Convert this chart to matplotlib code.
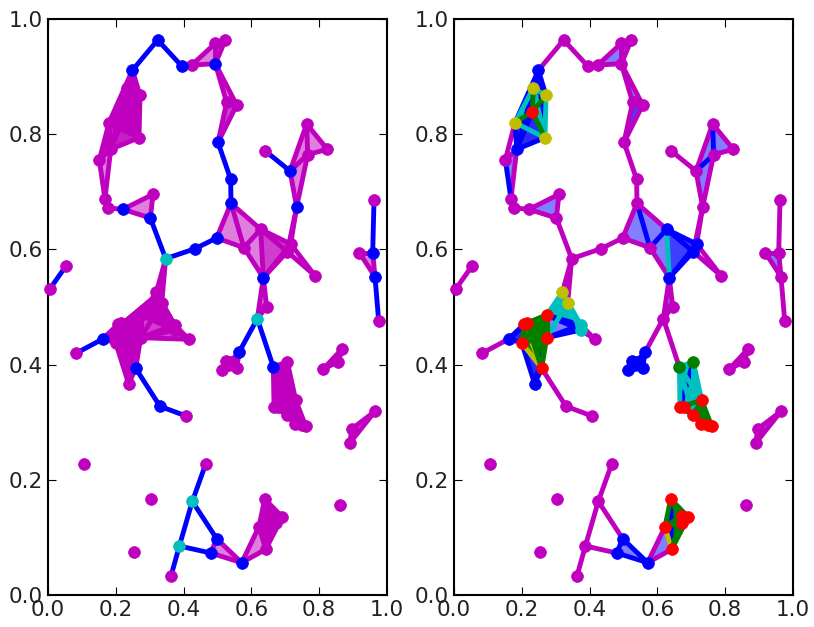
import matplotlib
matplotlib.use('Agg')
import matplotlib.pyplot as plt

px = [.3235,.249,.395,.424,.4936,.4936,.523,.527,.5566,.5015,
      .5388,.5398,.4975,.4336,.3471,.3019,.2212,.178,.168,.3097,
      .1514,.18,.2684,.234,.2714,.231,.185,.64,.7139,.7335,
      .763,.824,.766,.7158,.706,.7876,.6352,.6274,.578,.9617,
      .9578,.9184,.9646,.9755,.053,.006,.0826,.1613,.2586,.238,
      .3304,.4071,.4159,.2734,.2734,.1997,.2075,.216,.3737,.3737,
      .3354,.3196,.5634,.5251,.5566,.5133,.5369,.6175,.645,.6647,
      .7059,.7306,.6667,.7059,.7276,.7502,.76,.6794,.8121,.8564,
      .8682,.9646,.8958,.8909,.1071,.3048,.2537,.8623,.4652,.4257,
      .3875,.3628,.4975,.48,.5713,.6392,.6912,.6714,.6735,.6224,.6421]
py = [.9635,.911,.918,.92,.9224,.9578,.9635,.8553,.8507,.7859,
      .7216,.68,.6198,.6012,.5839,.6545,.6696,.6719,.6875,.6956,
      .7552,.82,.7939,.8802,.8675,.839,.7738,.7714,.7361,.6736,
      .8177,.7738,.7646,.6094,.596,.5544,.5509,.6349,.603,.6858,
      .5943,.5943,.5526,.4757,.5712,.5318,.4196,.4444,.3935,.3663,
      .3276,.3108,.4439,.4861,.4467,.438,.4705,.4716,.4688,.46,
      .5064,.5255,.4213,.4068,.3936,.39,.405,.4797,.5005,.3958,
      .405,.3385,.3258,.3125,.2963,.2951,.2934,.3258,.3924,.405,
      .4276,.3189,.2882,.2644,.2274,.1667,.0752,.1562,.2274,.1626,
      .0851,.033,.0978,.0729,.0561,.1667,.1354,.1372,.1255,.1186,.0793]

# edges, grouped by the colour they have on the right
edges_m = [(0,1),(0,2),(2,3),(3,4),(3,5),(4,5),(4,6),(5,6),(4,7),(4,8),(7,8),(7,9),(8,9),
           (9,10),(10,11),(11,12),(12,13),(13,14),(14,15),(15,16),(15,19),(16,19),(16,17),
           (17,18),(20,21),(20,26),(26,18),(12,38),(38,36),(11,37),(33,29),(34,29),
           (34,35),(33,35),(29,28),(29,32),(28,30),(30,31),(32,31),(27,28),(39,40),(40,41),
           (41,42),(40,42),(42,43),(44,45),(14,61),(14,60),(46,47),(48,50),(50,51),(59,52),
           (58,52),(62,67),(67,69),(67,68),(67,36),(36,68),(78,79),(79,80),(78,80),(81,82),
           (81,83),(82,83),(88,89),(89,90),(89,92),(90,91),(90,93),(94,99),(94,100)]
edges_b = [(20,18),(1,21),(1,22),(1,26),(25,26),(21,26),(22,26),(1,23),(1,24),(1,25),
           (11,38),(37,38),(37,33),(37,34),(36,34),(33,34),(36,33),(30,32),(28,32),(53,58),(54,58),
           (54,59),(53,59),(47,55),(47,56),(47,57),(49,48),(49,55),(49,54),(62,66),(62,64),
           (63,66),(63,65),(64,65),(64,66),(65,66),(63,64),(70,72),(92,93),(92,94),(93,94),
           (95,100)]
edges_c = [(23,21),(24,22),(21,22),(23,22),(23,24),(37,36),(61,58),(61,59),(60,58),(60,59),
           (61,53),(60,53),(60,54),(58,59),(60,61),(69,70),(69,72),(70,71),(69,71),(70,73),(69,73)]
edges_g = [(23,25),(24,25),(21,25),(25,22),(53,54),(53,55),(53,56),(53,57),(54,55),(54,56),
           (54,57),(55,56),(55,57),(56,57),(54,48),(53,48),(57,48),(71,73),(71,74),(71,75),
           (71,76),(72,73),(73,74),(74,75),(75,76),(72,77),(77,73),(71,72),(95,99),(95,96),
           (95,97),(95,98),(96,97),(97,98),(96,98),(98,100),(96,100),(99,98),(99,97),(97,100)]
edges_y = [(55,48),(56,48),(56,54),(99,100)]
left_only_edges = [(54,52)]

tris_b = [(3,4,5),(4,5,6),(7,8,4),(7,8,9),(15,16,19),(20,18,26),(1,21,26),(1,22,26),(21,22,26),
          (26,25,22),(21,25,26),(1,23,24),
          (11,12,38),(11,37,38),(37,38,36),(37,36,33),(36,34,33),(37,33,34),(36,37,34),
          (28,29,32),(30,31,32),(28,30,32),
          (40,41,42),(53,54,58),(54,58,59),(47,55,56),(49,48,55),(47,55,57),(94,99,100),(92,93,94),
          (62,63,64),(63,64,65),(78,79,80),(81,82,83),(14,60,61),(36,67,68),(7,8,9)]
tris_c = [(23,21,25),(23,24,22),(24,22,25),(21,22,25),(60,61,58),(60,61,53),(53,60,58),
          (69,70,71),(69,71,72),(70,71,72)]
tris_g = [(53,54,57),(53,56,57),(54,55,56),(54,55,48),(71,73,74),(71,74,76),(72,73,77),
          (95,99,97),(99,98,100),(96,98,100),(95,96,98),(53,54,48),(95,99,100),(95,96,100)]

# where the fill stacks up to a solid colour
solid_left = [(47,55,56),(55,56,53),(55,53,54),(55,54,48),(55,48,49),(56,57,53),(57,53,61),
              (53,61,60),(14,60,61),(61,56,47),(56,61,53),(47,61,53),(47,55,53),(61,60,58),(53,60,58),
              (1,23,24),(23,24,21),(24,21,22),(20,21,26),(1,24,22),
              (69,70,71),(69,71,72),(69,70,72),(70,71,72),(71,72,73),(71,73,76),(73,74,76),(72,73,77),
              (95,96,97),(95,97,99),(97,99,98),(96,98,100),(98,99,100),(95,96,100),(95,99,100),
              (62,63,64),(63,64,65)]
light_left = [(54,58,52),(53,54,52),(53,58,52)]
solid_right_c = [(69,70,71),(69,71,72),(71,72,73),(60,61,53),(53,60,58),(23,21,25),(23,24,22)]
solid_right_g = [(53,54,57),(53,56,57),(54,55,56),(54,55,48),(53,54,48),(71,73,74),(71,74,76),
                 (72,73,77),(95,99,100),(95,96,100)]
solid_right_b = [(49,48,55),(47,55,56),(62,63,64),(63,64,65),(26,25,22),(21,25,26),(36,34,33)]

# left plot colours
left_blue_edges = [(0,1),(0,2),(9,10),(10,11),(12,13),(13,14),(14,15),(27,28),(39,40),(42,43),
                   (44,45),(46,47),(48,50),(50,51),(62,67),(67,69),(88,89),(89,90),(89,92),
                   (90,91),(90,93)]
left_blue_pts = [0,1,2,4,9,10,11,12,13,15,16,28,29,36,40,42,47,48,50,62,69,92,93,94]
left_cyan_pts = [14,67,89,90]

# right plot colours
right_blue_pts = [1,26,33,34,36,37,47,49,62,63,64,65,66,92,93,94]
right_yellow_pts = [21,22,23,24,60,61]
right_red_pts = [25,48,53,54,55,56,57,71,72,73,74,75,76,77,95,96,97,98,99,100]
right_green_pts = [69,70]
right_cyan_pts = [58,59]


def draw_edges(ax, edges, color):
    for a, b in edges:
        ax.plot([px[a], px[b]], [py[a], py[b]], color=color, lw=3.5, zorder=2)


def draw_tris(ax, tris, color, alpha=0.5):
    for a, b, c in tris:
        ax.fill([px[a], px[b], px[c]], [py[a], py[b], py[c]], color=color, alpha=alpha, lw=0, zorder=1)


def draw_pts(ax, pts, color):
    ax.plot([px[i] for i in pts], [py[i] for i in pts], 'o', color=color, ms=8.5, mew=0.5,
            mec=color, zorder=3, clip_on=False)


fig = plt.figure(figsize=(8.14, 6.27), dpi=100)
ax1 = fig.add_axes([48 / 814, 1 - 595 / 627, 339 / 814, 576 / 627])
ax2 = fig.add_axes([454 / 814, 1 - 595 / 627, 339 / 814, 576 / 627])

all_edges = edges_m + edges_b + edges_c + edges_g + edges_y + left_only_edges
all_tris = tris_b + tris_c + tris_g

# left
draw_tris(ax1, all_tris + light_left, 'm')
draw_tris(ax1, solid_left, '#bf00bf', alpha=1)
draw_edges(ax1, [e for e in all_edges if e not in left_blue_edges], '#bf00bf')
draw_edges(ax1, left_blue_edges, 'b')
draw_pts(ax1, [i for i in range(len(px)) if i not in left_blue_pts + left_cyan_pts], '#bf00bf')
draw_pts(ax1, left_blue_pts, 'b')
draw_pts(ax1, left_cyan_pts, '#00bfbf')

# right
draw_tris(ax2, tris_b, 'b')
draw_tris(ax2, tris_c, '#00bfbf')
draw_tris(ax2, tris_g, 'g')
draw_tris(ax2, solid_right_c, '#00bfbf', alpha=1)
draw_tris(ax2, solid_right_b, '#2a2aff', alpha=1)
draw_tris(ax2, solid_right_g, '#007f00', alpha=1)
draw_edges(ax2, edges_m, '#bf00bf')
draw_edges(ax2, edges_b, 'b')
draw_edges(ax2, edges_c, '#00bfbf')
draw_edges(ax2, edges_y, '#bfbf00')
draw_edges(ax2, edges_g, '#007f00')
other = right_blue_pts + right_yellow_pts + right_red_pts + right_green_pts + right_cyan_pts
draw_pts(ax2, [i for i in range(len(px)) if i not in other], '#bf00bf')
draw_pts(ax2, right_blue_pts, 'b')
draw_pts(ax2, right_cyan_pts, '#00bfbf')
draw_pts(ax2, right_green_pts, '#007f00')
draw_pts(ax2, right_yellow_pts, '#bfbf00')
draw_pts(ax2, right_red_pts, 'r')

for ax in (ax1, ax2):
    ax.set_xlim(0, 1)
    ax.set_ylim(0, 1)
    ax.set_xticks([0, .2, .4, .6, .8, 1])
    ax.set_yticks([0, .2, .4, .6, .8, 1])
    ax.tick_params(direction='in', top=True, right=True, labelsize=15.5, length=6, width=0.8,
                   labelcolor='#222222')
    for s in ax.spines.values():
        s.set_linewidth(1.5)

fig.savefig('out.png', dpi=100)
